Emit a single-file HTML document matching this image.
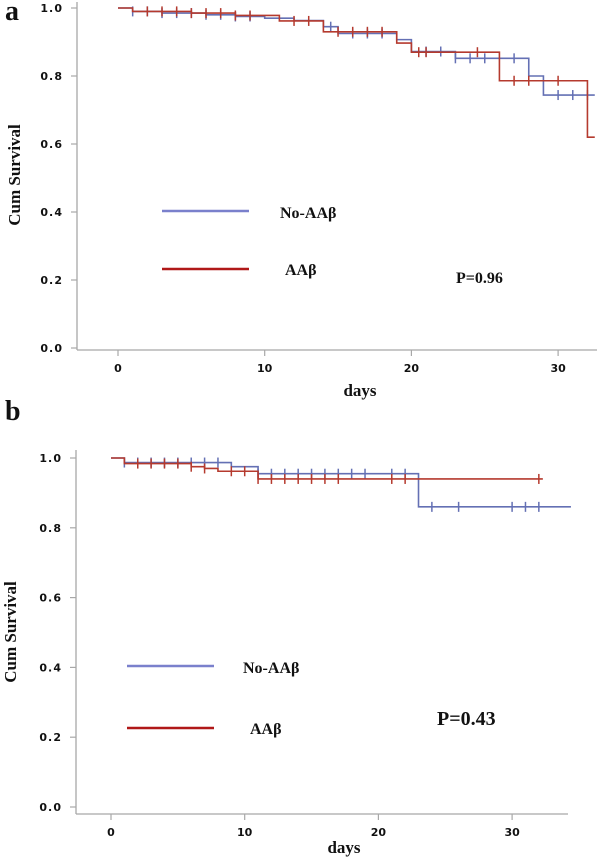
<!DOCTYPE html>
<html><head><meta charset="utf-8"><style>
html,body{margin:0;padding:0;background:#fff;}
svg{display:block;}
.tk{font-family:"DejaVu Sans","Liberation Sans",sans-serif;font-size:11px;font-weight:bold;fill:#111;}
.sf{font-family:"Liberation Serif",serif;font-weight:bold;fill:#111;}
</style></head><body>
<svg id="c" width="600" height="858" viewBox="0 0 600 858" xmlns="http://www.w3.org/2000/svg"></svg>
<script>
// Panel a data: step curves [day, survival]
const aBlueSteps=[[0,1],[1,0.99],[3,0.985],[6,0.98],[8,0.975],[10,0.97],[12,0.963],[14,0.945],[15,0.925],[19,0.907],[20,0.872],[23,0.852],[28,0.80],[29,0.744]];
const aBlueEnd=32.5;
const aBlueCensor=[1,2,3,4,5,6,7,8,9,14.5,16,17,18,21,22,23,24,25,27,30,31,32];
const aRedSteps=[[0,1],[1,0.99],[5,0.985],[8,0.978],[11,0.962],[14,0.93],[19,0.897],[20,0.87],[26,0.786],[32,0.62]];
const aRedEnd=32.5;
const aRedCensor=[2,3,4,5,6,7,8,9,12,13,15,16,17,18,20.5,21,24.5,27,28,30];
// Panel b data
const bBlueSteps=[[0,1],[1,0.987],[9,0.975],[11,0.955],[23,0.86]];
const bBlueEnd=34.4;
const bBlueCensor=[1,2,3,4,5,6,7,8,11,12,13,14,15,16,17,18,19,21,22,24,26,30,31,32];
const bRedSteps=[[0,1],[1,0.984],[6,0.975],[7,0.97],[8,0.962],[11,0.94]];
const bRedEnd=32.3;
const bRedCensor=[2,3,4,5,6,7,9,10,11,12,13,14,15,16,17,21,22,32];
const xTicks=[0,10,20,30];
const yTicks=[0,0.2,0.4,0.6,0.8,1.0];

const NS="http://www.w3.org/2000/svg";
const svg=document.getElementById('c');
function mk(tag,attrs,parent){const e=document.createElementNS(NS,tag);for(const k in attrs)e.setAttribute(k,attrs[k]);(parent||svg).appendChild(e);return e;}
const BLUE="#6470b4",RED="#b53a2e",AX="#a8a8a8";

function panel(p){
  const g=mk('g',{});
  
  
  const X=d=>p.x0+d*p.xs, Y=v=>p.y0-v*p.ys;
  // axes
  const ya=mk('line',{x1:p.ax,y1:p.yTop,x2:p.ax,y2:p.axY,stroke:AX,'stroke-width':1.3},g);
  
  
  const xa=mk('line',{x1:p.ax,y1:p.axY,x2:p.axEnd,y2:p.axY,stroke:AX,'stroke-width':1.3},g);
  
  
  yTicks.forEach(v=>{
    mk('line',{x1:p.ax-6,y1:Y(v),x2:p.ax,y2:Y(v),stroke:AX,'stroke-width':1.2},g);
    const t=mk('text',{x:p.ax-15,y:Y(v)+4,'text-anchor':'end',class:'tk'},g);
    t.textContent=v.toFixed(1).split('').join('\u200a');
    
    
  });
  xTicks.forEach(d=>{
    mk('line',{x1:X(d),y1:p.axY,x2:X(d),y2:p.axY+6,stroke:AX,'stroke-width':1.2},g);
    const t=mk('text',{x:X(d),y:p.axY+22,'text-anchor':'middle',class:'tk'},g);
    t.textContent=String(d);
    
    
  });
  function curve(steps,end,cens,col,nm){
    let d='M'+X(steps[0][0])+' '+Y(steps[0][1]);
    for(let i=1;i<steps.length;i++){d+=' H'+X(steps[i][0])+' V'+Y(steps[i][1]);}
    d+=' H'+X(end);
    const pth=mk('path',{d:d,fill:'none',stroke:col,'stroke-width':1.6},g);
    
    
    cens.forEach(c=>{
      let v=steps[0][1];
      for(const s of steps){if(s[0]<=c)v=s[1];}
      const m=mk('line',{x1:X(c),y1:Y(v)-5,x2:X(c),y2:Y(v)+5,stroke:col,'stroke-width':1.5},g);
      
      
    });
  }
  curve(p.blue[0],p.blue[1],p.blue[2],BLUE,'no-aab');
  curve(p.red[0],p.red[1],p.red[2],RED,'aab');
  // legend
  const lb=mk('line',{x1:p.lx1,y1:p.lby,x2:p.lx2,y2:p.lby,stroke:'#7a80cc','stroke-width':2.5},g);
  
  
  const lt=mk('text',{x:p.ltx1,y:p.lby+7,class:'sf','font-size':16},g);
  lt.textContent='No-AAβ';
  
  
  const lr=mk('line',{x1:p.lx1,y1:p.lry,x2:p.lx2,y2:p.lry,stroke:'#b01818','stroke-width':2.5},g);
  
  
  const lt2=mk('text',{x:p.ltx2,y:p.lry+6,class:'sf','font-size':16},g);
  lt2.textContent='AAβ';
  
  
  const pv=mk('text',{x:p.px,y:p.py,class:'sf','font-size':p.pfs},g);
  pv.textContent=p.ptext;
  
  
  const xt=mk('text',{x:p.dx,y:p.dy,'text-anchor':'middle',class:'sf','font-size':17},g);
  xt.textContent='days';
  
  
  const yt=mk('text',{x:0,y:0,'text-anchor':'middle',class:'sf','font-size':17,transform:'translate('+p.ytx+','+p.yty+') rotate(-90)'},g);
  yt.textContent='Cum Survival';
  
  
  const pl=mk('text',{x:5,y:p.lblY,class:'sf','font-size':28},g);
  pl.textContent=p.label;
  
  
}
panel({name:'panel-a',x0:118,xs:14.67,y0:348,ys:340,ax:77,axY:350,axEnd:597,yTop:2,
  blue:[aBlueSteps,aBlueEnd,aBlueCensor],red:[aRedSteps,aRedEnd,aRedCensor],
  lx1:162,lx2:249,lby:211,lry:269,ltx1:280,ltx2:285,px:456,py:283,pfs:16,ptext:'P=0.96',
  dx:360,dy:396,ytx:20,yty:175,lblY:20,label:'a'});
panel({name:'panel-b',x0:111,xs:13.37,y0:807,ys:349,ax:76,axY:814,axEnd:568,yTop:450,
  blue:[bBlueSteps,bBlueEnd,bBlueCensor],red:[bRedSteps,bRedEnd,bRedCensor],
  lx1:127,lx2:214,lby:666,lry:728,ltx1:243,ltx2:250,px:437,py:725,pfs:20,ptext:'P=0.43',
  dx:344,dy:853,ytx:16,yty:632,lblY:420,label:'b'});
</script>
</body></html>
